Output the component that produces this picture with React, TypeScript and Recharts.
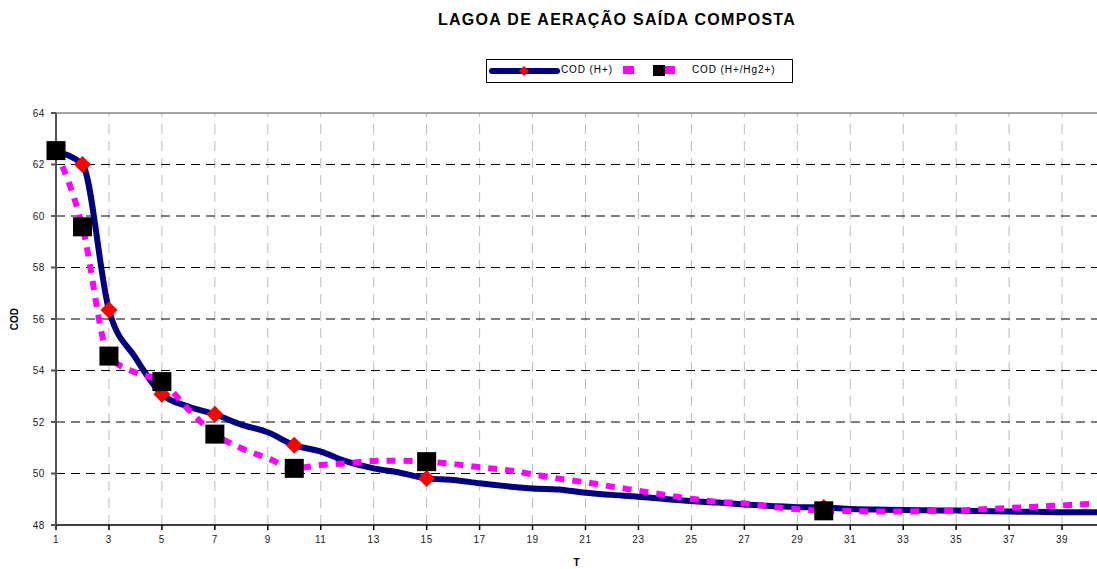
import { LineChart, Line, XAxis, YAxis, ReferenceLine } from "recharts";

const T = [1, 2, 3, 4, 5, 6, 7, 8, 9, 10, 11, 12, 13, 14, 15, 16, 17, 18, 19, 20, 21, 22, 23, 24, 25, 26, 27, 28, 29, 30, 31, 32, 33, 34, 35, 36, 37, 38, 39, 40, 41];

const codH = [
  62.5, 62.0, 56.35, 54.5, 53.08, 52.6, 52.3, 51.9, 51.6, 51.1, 50.85, 50.46, 50.2, 50.03, 49.81, 49.75, 49.62, 49.51, 49.42, 49.38,
  49.25, 49.17, 49.1, 49.01, 48.93, 48.87, 48.8, 48.74, 48.69, 48.68, 48.62, 48.6, 48.58, 48.57, 48.56, 48.54, 48.52, 48.51, 48.5, 48.5,
  48.5,
];

const codHHg = [
  62.54, 59.58, 54.56, 53.92, 53.57, 52.49, 51.53, 50.98, 50.59, 50.2, 50.33, 50.4, 50.49, 50.5, 50.46, 50.37, 50.24, 50.14, 49.97, 49.8,
  49.66, 49.49, 49.33, 49.17, 49.02, 48.9, 48.84, 48.71, 48.61, 48.55, 48.54, 48.52, 48.52, 48.54, 48.56, 48.61, 48.66, 48.71, 48.76, 48.82,
  48.88,
];

// measured points (markers); the rest of each series is the fitted curve
const measuredT = [1, 2, 3, 5, 7, 10, 15, 30];

const xTicks = [1, 3, 5, 7, 9, 11, 13, 15, 17, 19, 21, 23, 25, 27, 29, 31, 33, 35, 37, 39];
const yTicks = [48, 50, 52, 54, 56, 58, 60, 62, 64];
const gridY = [50, 52, 54, 56, 58, 60, 62];
const gridX = [3, 5, 7, 9, 11, 13, 15, 17, 19, 21, 23, 25, 27, 29, 31, 33, 35, 37, 39, 41];

const data = T.map((t, i) => ({ t, codH: codH[i], codHHg: codHHg[i] }));

const FONT = "'Liberation Sans', Arial, sans-serif";
const tickStyle = { fontSize: 10, fill: "#222", fontFamily: FONT, letterSpacing: 0.6 };

function Diamond(props: any) {
  const { cx, cy, payload, index } = props;
  if (!measuredT.includes(payload.t)) return <g key={`d${index}`} />;
  const r = 8.5;
  return (
    <path
      key={`d${index}`}
      d={`M${cx},${cy - r}L${cx + r},${cy}L${cx},${cy + r}L${cx - r},${cy}Z`}
      fill="#ff0000"
    />
  );
}

function Square(props: any) {
  const { cx, cy, payload, index } = props;
  if (!measuredT.includes(payload.t)) return <g key={`s${index}`} />;
  const s = 19;
  return <rect key={`s${index}`} x={cx - s / 2} y={cy - s / 2} width={s} height={s} fill="#000" />;
}

function LegendBox() {
  return (
    <div
      style={{
        position: "absolute",
        left: 486,
        top: 59,
        width: 305,
        height: 22,
        border: "1px solid #000",
        background: "#fff",
        fontFamily: FONT,
        fontSize: 10,
        letterSpacing: 0.9,
        color: "#000",
      }}
    >
      <svg width={305} height={22} style={{ position: "absolute", left: 0, top: 0 }}>
        <line x1={5} y1={11} x2={70} y2={11} stroke="#000080" strokeWidth={6} strokeLinecap="round" />
        <path d="M37,6L42,11L37,16L32,11Z" fill="#ff0000" />
        <rect x={136} y={6} width={11} height={8} fill="#ff00ff" />
        <rect x={166} y={5} width={12} height={11} fill="#000" />
        <rect x={178} y={6} width={10} height={8} fill="#ff00ff" />
      </svg>
      <span style={{ position: "absolute", left: 74, top: 4 }}>COD (H+)</span>
      <span style={{ position: "absolute", left: 205, top: 4 }}>COD (H+/Hg2+)</span>
    </div>
  );
}

export default function App() {
  return (
    <div
      style={{
        position: "absolute",
        left: 0,
        top: 0,
        width: 1097,
        height: 569,
        overflow: "hidden",
        background: "#fff",
        fontFamily: FONT,
      }}
    >
      <div
        style={{
          position: "absolute",
          left: 0,
          width: 1234,
          top: 11,
          textAlign: "center",
          fontSize: 16,
          fontWeight: "bold",
          letterSpacing: 1.3,
          color: "#000",
        }}
      >
        LAGOA DE AERAÇÃO SAÍDA COMPOSTA
      </div>
      <LegendBox />
      {/* plot runs past the right edge of the picture, as in the original */}
      <LineChart
        width={1115}
        height={569}
        data={data}
        margin={{ top: 113, right: 0, bottom: 0, left: 0 }}
        style={{ fontFamily: FONT, position: "absolute", left: 0, top: 0 }}
      >
        {gridX.map((v) => (
          <ReferenceLine key={`x${v}`} x={v} stroke="#bbbbbb" strokeDasharray="10 7" strokeWidth={1} />
        ))}
        {gridY.map((v) => (
          <ReferenceLine key={`y${v}`} y={v} stroke="#000" strokeDasharray="9 6" strokeWidth={1} />
        ))}
        <ReferenceLine y={64} stroke="#888" strokeWidth={1.5} />
        <XAxis
          dataKey="t"
          type="number"
          domain={[1, 41]}
          ticks={xTicks}
          interval={0}
          height={44}
          tickSize={5}
          tickMargin={6}
          tick={tickStyle}
          stroke="#000"
          strokeWidth={1.5}
          label={{
            value: "T",
            position: "insideBottom",
            offset: 3,
            dx: -9,
            style: { fontSize: 10, fontWeight: "bold", fill: "#000" },
          }}
        />
        <YAxis
          domain={[48, 64]}
          ticks={yTicks}
          interval={0}
          width={56}
          tickSize={5}
          tickMargin={6}
          tick={tickStyle}
          stroke="#555"
          strokeWidth={2}
          label={{
            value: "COD",
            angle: -90,
            position: "insideLeft",
            offset: 14,
            style: { fontSize: 10, fontWeight: "bold", fill: "#000", textAnchor: "middle" },
          }}
        />
        <Line
          dataKey="codH"
          name="COD (H+)"
          type="monotone"
          stroke="#000080"
          strokeWidth={6}
          dot={Diamond}
          activeDot={false}
          isAnimationActive={false}
        />
        <Line
          dataKey="codHHg"
          name="COD (H+/Hg2+)"
          type="monotone"
          stroke="#ff00ff"
          strokeWidth={6}
          strokeDasharray="9 8"
          dot={Square}
          activeDot={false}
          isAnimationActive={false}
        />
      </LineChart>
    </div>
  );
}
